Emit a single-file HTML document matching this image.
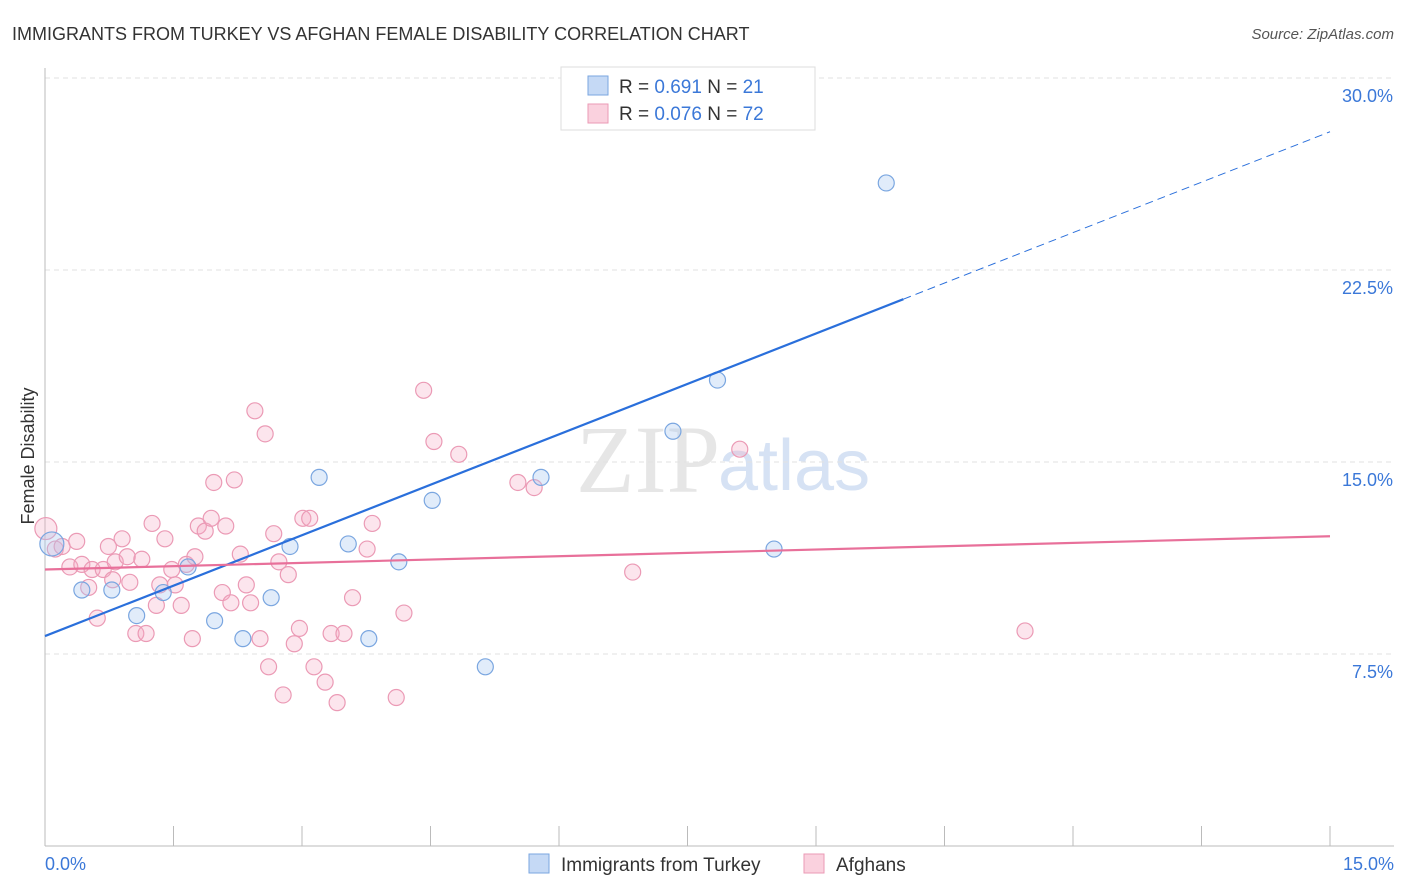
<!DOCTYPE html>
<html><head><meta charset="utf-8"><style>
body{margin:0;background:#fff;font-family:"Liberation Sans",sans-serif}
svg{display:block}
</style></head><body>
<svg width="1406" height="892" xmlns="http://www.w3.org/2000/svg">
<text x="12" y="40" font-size="18" fill="#333">IMMIGRANTS FROM TURKEY VS AFGHAN FEMALE DISABILITY CORRELATION CHART</text>
<text x="1394" y="39" font-size="15" fill="#555" font-style="italic" text-anchor="end">Source: ZipAtlas.com</text>
<text x="720" y="492" font-size="96" fill="#e6e6e6" text-anchor="end" font-family="Liberation Serif">ZIP</text>
<text x="718" y="490" font-size="72" fill="#d6e2f4">atlas</text>
<g id="grid"></g>
<g id="axes"></g>
<g id="pts"></g>
<g id="lines"></g>
<text transform="translate(34,456) rotate(-90)" font-size="18" fill="#333" text-anchor="middle">Female Disability</text>
<text x="45" y="870" font-size="18" fill="#3b78d8">0.0%</text>
<text x="1394" y="870" font-size="18" fill="#3b78d8" text-anchor="end">15.0%</text>
<g>
<rect x="561" y="67" width="254" height="63" fill="#fff" stroke="#ddd"/>
<rect x="588" y="76" width="20" height="19" fill="#c5d9f5" stroke="#7aa6e0"/>
<rect x="588" y="104" width="20" height="19" fill="#fad1de" stroke="#eb9ab5"/>
<text x="619" y="93" font-size="19" fill="#333">R = <tspan fill="#3b78d8">0.691</tspan>   N = <tspan fill="#3b78d8">21</tspan></text>
<text x="619" y="120" font-size="19" fill="#333">R = <tspan fill="#3b78d8">0.076</tspan>   N = <tspan fill="#3b78d8">72</tspan></text>
</g>
<g>
<rect x="529" y="854" width="20" height="19" fill="#c5d9f5" stroke="#7aa6e0"/>
<text x="561" y="871" font-size="19" fill="#333">Immigrants from Turkey</text>
<rect x="804" y="854" width="20" height="19" fill="#fad1de" stroke="#eb9ab5"/>
<text x="836" y="871" font-size="19" fill="#333">Afghans</text>
</g>
</svg>
<script>
const yTicks=[7.5,15,22.5,30];
const yTickLabels=["7.5%","15.0%","22.5%","30.0%"];
const xTicks=[0,1.5,3,4.5,6,7.5,9,10.5,12,13.5,15];
const turkeyX=[0.08,0.43,0.78,1.07,1.38,1.67,1.98,2.31,2.64,2.86,3.2,3.54,3.78,4.13,4.52,5.14,5.79,7.33,7.85,8.51,9.82];
const turkeyY=[11.8,10.0,10.0,9.0,9.9,10.9,8.8,8.1,9.7,11.7,14.4,11.8,8.1,11.1,13.5,7.0,14.4,16.2,18.2,11.6,25.9];
const afghanX=[0.01,0.12,0.2,0.29,0.37,0.43,0.51,0.55,0.61,0.68,0.74,0.79,0.82,0.9,0.96,0.99,1.06,1.13,1.18,1.25,1.3,1.34,1.4,1.48,1.52,1.59,1.65,1.72,1.75,1.79,1.87,1.94,1.97,2.07,2.11,2.17,2.21,2.28,2.35,2.4,2.45,2.51,2.57,2.61,2.67,2.73,2.78,2.84,2.91,2.97,3.01,3.09,3.14,3.27,3.34,3.41,3.49,3.59,3.76,3.82,4.1,4.19,4.42,4.54,4.83,5.52,5.71,6.86,8.11,11.44];
const afghanY=[12.4,11.6,11.7,10.9,11.9,11.0,10.1,10.8,8.9,10.8,11.7,10.4,11.1,12.0,11.3,10.3,8.3,11.2,8.3,12.6,9.4,10.2,12.0,10.8,10.2,9.4,11.0,8.1,11.3,12.5,12.3,12.8,14.2,9.9,12.5,9.5,14.3,11.4,10.2,9.5,17.0,8.1,16.1,7.0,12.2,11.1,5.9,10.6,7.9,8.5,12.8,12.8,7.0,6.4,8.3,5.6,8.3,9.7,11.6,12.6,5.8,9.1,17.8,15.8,15.3,14.2,14.0,10.7,15.5,8.4];
const turkeyFit=[8.2,27.9]; // at x=0 and x=15
const afghanFit=[10.8,12.1];
const X=v=>45+v/15*1285, Y=v=>846-v/7.5*192;
const NS="http://www.w3.org/2000/svg";
function mk(p,t,a){const e=document.createElementNS(NS,t);for(const k in a)e.setAttribute(k,a[k]);p.appendChild(e);return e;}
const grid=document.getElementById('grid'),axes=document.getElementById('axes'),pts=document.getElementById('pts'),lines=document.getElementById('lines');
yTicks.forEach((t,i)=>{const l=mk(grid,'line',{x1:45,x2:1394,y1:Y(t),y2:Y(t),stroke:'#e2e2e2','stroke-dasharray':'5,4'});


const tx=mk(grid,'text',{x:1393,y:Y(t)+24,'font-size':18,fill:'#3b78d8','text-anchor':'end'});tx.textContent=yTickLabels[i];

});
const ax=mk(axes,'line',{x1:45,x2:45,y1:68,y2:846,stroke:'#bbb'});


const bx=mk(axes,'line',{x1:45,x2:1394,y1:846,y2:846,stroke:'#bbb'});


xTicks.forEach(t=>{const l=mk(axes,'line',{x1:X(t),x2:X(t),y1:826,y2:846,stroke:'#bbb'});

});
afghanX.forEach((x,i)=>{const c=mk(pts,'circle',{cx:X(x),cy:Y(afghanY[i]),r:i==0?11:8,fill:'rgba(245,170,195,0.3)',stroke:'#eb9ab5','stroke-width':1.2});

});
turkeyX.forEach((x,i)=>{const c=mk(pts,'circle',{cx:X(x),cy:Y(turkeyY[i]),r:i==0?12:8,fill:'rgba(170,200,240,0.35)',stroke:'#7aa6e0','stroke-width':1.2});

});
const fy=(f,x)=>f[0]+(f[1]-f[0])*x/15;
const b1=mk(lines,'line',{x1:X(0),y1:Y(fy(turkeyFit,0)),x2:X(10.02),y2:Y(fy(turkeyFit,10.02)),stroke:'#2a6fdb','stroke-width':2.2});


const b2=mk(lines,'line',{x1:X(10.02),y1:Y(fy(turkeyFit,10.02)),x2:X(15),y2:Y(fy(turkeyFit,15)),stroke:'#2a6fdb','stroke-width':1,'stroke-dasharray':'8,5'});


const p1=mk(lines,'line',{x1:X(0),y1:Y(fy(afghanFit,0)),x2:X(15),y2:Y(fy(afghanFit,15)),stroke:'#e8709a','stroke-width':2.2});


</script>
</body></html>
